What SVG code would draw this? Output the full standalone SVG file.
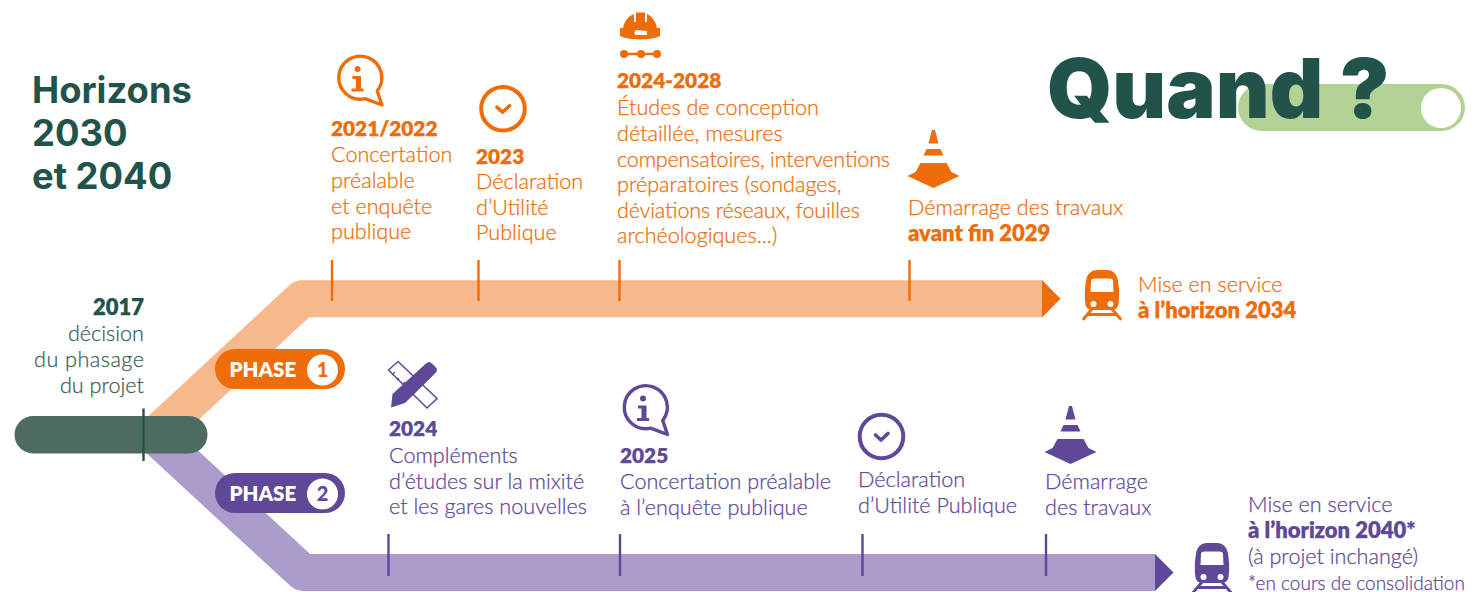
<svg xmlns="http://www.w3.org/2000/svg" width="1474" height="592" viewBox="0 0 1474 592">
<defs>
<style>
text{font-family:"Lato","Noto Sans","Liberation Sans",sans-serif;font-size:21.600px;font-weight:300}
.o{fill:#ee6c0a;color:#ee6c0a}
.p{fill:#5f4897;color:#5f4897}
.g{fill:#4e6b62}
.o text{stroke:#ee6c0a;stroke-width:.25px}
.p text{stroke:#5f4897;stroke-width:.25px}
#start-2017 text{fill:#3d6157;stroke:#3d6157;stroke-width:.25px}
#start-2017 text.h{fill:#22534a;stroke:#22534a}
text.b{font-weight:800;font-size:20.800px}
text.h{font-weight:800;font-size:22px}
text.t{font-family:"Inter","Lato",sans-serif;font-weight:700;fill:#22534a;font-size:36.400px}
text.q{font-family:"Inter","Lato",sans-serif;font-weight:900;fill:#22534a;font-size:83px}
text.pill{font-size:20.500px;font-weight:800;fill:#fff}
text.num{font-size:20px;font-weight:900;text-anchor:middle}
text.s{font-size:19px}
.r{text-anchor:end}
.tick{stroke-width:2.400;fill:none}
.os{stroke:#ee6c0a}
.ps{stroke:#5f4897}
</style>
<g id="info"><path d="M7.500 20.200A21.500 21.500 0 1 1 19.700 12.500L24.500 26.500Z" fill="none" stroke="currentColor" stroke-width="3.400" stroke-linejoin="round"/><circle cx="0" cy="-9.500" r="3" fill="currentColor"/><path d="M-5-2.500H3.500V10H6V13H-6V10H-1.500V0.500H-5Z" fill="currentColor"/></g>
<g id="check"><circle r="21.800" fill="none" stroke="currentColor" stroke-width="4"/><path d="M-6-1.500-0.500 3.500 6.500-3" fill="none" stroke="currentColor" stroke-width="3.600" stroke-linecap="round" stroke-linejoin="round"/></g>
<g id="cone"><path d="M-1.500-47H1.500L5-33.500H-5ZM-7-28H7L10-21.500H-10ZM-13-14H13L18-5 26-1 0 11-26-1-18-5Z" fill="currentColor"/></g>
<g id="train"><path fill="currentColor" fill-rule="evenodd" d="M-5-22H5C11-22 15-18 16-11C17.500-3 17.500 6 16.500 12C16 16 13 18 9 18H-9C-13 18-16 16-16.500 12C-17.500 6-17.500-3-16-11C-15-18-11-22-5-22ZM-7-13.500C-10-13.500-11-12.500-11-11L-11.500 0H11.500L11-11C11-12.500 10-13.500 7-13.500Z"/><circle cx="-8.500" cy="12" r="3" fill="#fff"/><circle cx="8.500" cy="12" r="3" fill="#fff"/><path d="M-10 17-18.500 27M10 17 18.500 27M-13 22.500H13" fill="none" stroke="currentColor" stroke-width="2.800" stroke-linecap="round"/></g>
</defs>
<rect width="1474" height="592" fill="#fff"/>

<g id="connectors">
<path d="M154 436 L302 298.700 H1042" fill="none" stroke="#f7b98c" stroke-width="37" stroke-linejoin="round"/>
<path d="M1042 280 L1060.500 298.700 L1042 317.500Z" class="o"/>
<path d="M155 436 L303 572.500 H1155" fill="none" stroke="#ab9ccb" stroke-width="37" stroke-linejoin="round"/>
<path d="M1155 554 L1173.500 572.500 L1155 591Z" class="p"/>
<rect x="14.500" y="416" width="193" height="37.500" rx="18.700" class="g"/>
<path d="M143.500 408.500V461" stroke="#22534a" stroke-width="2.400"/>
<path class="tick os" d="M332 260V301M478.500 260V301M619.500 260V301M909.500 260V301"/>
<path class="tick ps" d="M388.500 534V576M620 534V576M862.500 534V576M1046 534V576"/>
</g>

<g id="title">
<text class="t" x="32" y="103">Horizons</text>
<text class="t" x="32" y="146">2030</text>
<text class="t" x="32" y="189">et 2040</text>
</g>

<g id="quand">
<rect x="1238" y="84" width="227" height="47" rx="23.500" fill="#b5d296"/>
<circle cx="1441" cy="108" r="20" fill="#fff"/>
<text class="q" x="1047" y="118">Quand ?</text>
</g>

<g id="start-2017">
<text class="h r" x="144" y="315">2017</text>
<text class="r" x="144" y="341">décision</text>
<text class="r" x="144" y="367" textLength="110">du phasage</text>
<text class="r" x="144" y="393">du projet</text>
</g>

<g id="phase-1">
<rect x="215" y="349" width="130" height="40" rx="20" class="o"/>
<text class="pill" x="229.500" y="377">PHASE</text>
<circle cx="322.500" cy="370" r="15.500" fill="#fff"/>
<text class="num o" x="322.500" y="377">1</text>
</g>
<g id="phase-2">
<rect x="215" y="473" width="130" height="40" rx="20" class="p"/>
<text class="pill" x="229.500" y="501">PHASE</text>
<circle cx="322.500" cy="494" r="15.500" fill="#fff"/>
<text class="num p" x="322.500" y="501">2</text>
</g>

<g id="node-2021-2022" class="o">
<use href="#info" x="357.500" y="78.500"/>
<text class="b" x="331" y="136">2021/2022</text>
<text x="331" y="162">Concertation</text>
<text x="331" y="188">préalable</text>
<text x="331" y="213.500">et enquête</text>
<text x="331" y="239">publique</text>
</g>

<g id="node-2023" class="o">
<use href="#check" x="503" y="108.700"/>
<text class="b" x="476" y="164">2023</text>
<text x="476" y="189">Déclaration</text>
<text x="476" y="215">d’Utilité</text>
<text x="476" y="240">Publique</text>
</g>

<g id="node-2024-2028" class="o">
<path fill-rule="evenodd" d="M634 14C628 16 624 22 623 28H620V36C628 40.500 652 40.500 660 36V28H657C656 22 652 16 647 14V22H645V12.500H636V22H634ZM636 30L647 31V35H636C634 35 634 31 636 30Z"/>
<path d="M624 54H657" stroke="#ee6c0a" stroke-width="2.500"/>
<circle cx="624" cy="54" r="4"/><circle cx="641" cy="54" r="4"/><circle cx="657" cy="54" r="4"/>
<text class="b" x="617" y="88">2024-2028</text>
<text x="617" y="115">Études de conception</text>
<text x="617" y="140.500">détaillée, mesures</text>
<text x="617" y="166.500" textLength="273">compensatoires, interventions</text>
<text x="617" y="192">préparatoires (sondages,</text>
<text x="617" y="217.500" textLength="243">déviations réseaux, fouilles</text>
<text x="617" y="243">archéologiques...)</text>
</g>

<g id="node-2029" class="o">
<use href="#cone" x="933.500" y="177"/>
<text x="908" y="214.500">Démarrage des travaux</text>
<text class="h" x="908" y="240.500">avant fin 2029</text>
</g>

<g id="node-2034" class="o">
<use href="#train" x="1102" y="292"/>
<text x="1138" y="292">Mise en service</text>
<text class="h" x="1138" y="318">à l’horizon 2034</text>
</g>

<g id="node-2024" class="p">
<path d="M388.500 370 398 361.500 437 398.500 427 408Z" fill="none" stroke="#5f4897" stroke-width="1.500"/>
<path d="M392 375 395 372M397 380 399 378M402 385 405 382M407 390 409 388M412 395 415 392" stroke="#5f4897" stroke-width="1.200"/>
<path d="M426 363.500C428 361.500 430 361.500 432 363.500L435.500 367C437.500 369 437.500 371 435.500 373L405 403 391 407.500 392.500 394Z"/>
<text class="b" x="389" y="436">2024</text>
<text x="389" y="463">Compléments</text>
<text x="389" y="488.500">d’études sur la mixité</text>
<text x="389" y="514">et les gares nouvelles</text>
</g>

<g id="node-2025" class="p">
<use href="#info" x="643" y="408"/>
<text class="b" x="620" y="463">2025</text>
<text x="620" y="489">Concertation préalable</text>
<text x="620" y="515">à l’enquête publique</text>
</g>

<g id="node-dup" class="p">
<use href="#check" x="881.500" y="436.500"/>
<text x="858" y="487">Déclaration</text>
<text x="858" y="513">d’Utilité Publique</text>
</g>

<g id="node-travaux" class="p">
<use href="#cone" x="1070.500" y="453"/>
<text x="1045" y="489">Démarrage</text>
<text x="1045" y="515">des travaux</text>
</g>

<g id="node-2040" class="p">
<use href="#train" x="1212" y="565"/>
<text x="1248" y="512">Mise en service</text>
<text class="h" x="1248" y="537.500">à l’horizon 2040*</text>
<text x="1248" y="564">(à projet inchangé)</text>
<text class="s" x="1248" y="590">*en cours de consolidation</text>
</g>
</svg>
